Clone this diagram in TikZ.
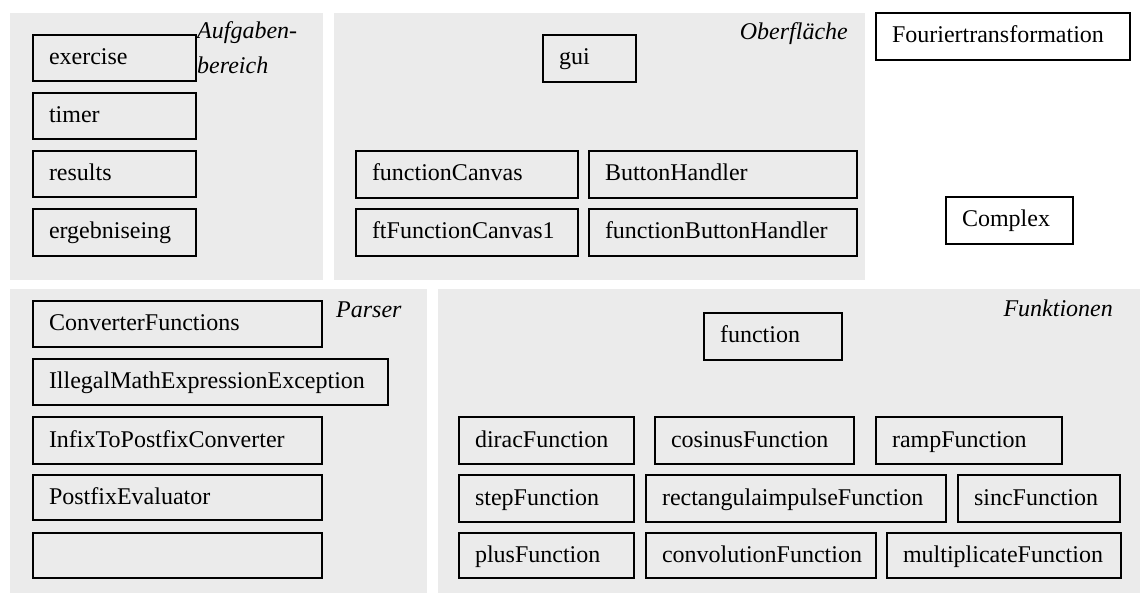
\documentclass[tikz,border=0pt]{standalone}
\usepackage{fontspec}
\setmainfont{Liberation Serif}
\definecolor{panelgray}{HTML}{EBEBEB}
\tikzset{
  panel/.style={fill=panelgray, draw=none},
  ubox/.style={draw=black, line width=1.7pt, fill=none, rectangle, anchor=north west,
    inner xsep=16pt, inner ysep=0pt, outer sep=0pt, align=left,
    text height=17pt, text depth=4pt,
    font=\fontsize{24}{28}\selectfont},
  plabel/.style={font=\fontsize{24}{28}\selectfont\itshape, inner sep=0pt}
}
% #1 name, #2 x1, #3 y1, #4 x2, #5 y2, #6 text
\newcommand\umlbox[6]{%
  \pgfmathsetmacro\bw{#4-#2}%
  \pgfmathsetmacro\bh{#5-#3}%
  \pgfmathsetmacro\tw{#4-#2-32}%
  \node[ubox, minimum width=\bw pt, minimum height=\bh pt, text width=\tw pt] (#1) at (#2,#3) {#6};%
}
\begin{document}
\begin{tikzpicture}[x=1pt,y=-1pt]
\useasboundingbox (0,0) rectangle (1140,593);
% panels
\fill[panel] (10,13) rectangle (323,280);
\fill[panel] (334,13) rectangle (865,280);
\fill[panel] (10,289) rectangle (427,593);
\fill[panel] (438,289) rectangle (1140,593);
% panel labels
\node[plabel, anchor=base west] (lAufg1) at (197,39) {Aufgaben-};
\node[plabel, anchor=base west] (lAufg2) at (197,74) {bereich};
\node[plabel, anchor=base east] (lOber) at (848,40) {Oberfläche};
\node[plabel, anchor=base west] (lPars) at (336,318) {Parser};
\node[plabel, anchor=base east] (lFunk) at (1113,317) {Funktionen};
% Aufgabenbereich
\umlbox{exercise}{33}{35}{196}{81}{exercise}
\umlbox{timer}{33}{93}{196}{139}{timer}
\umlbox{results}{33}{151}{196}{197}{results}
\umlbox{ergebniseing}{33}{209}{196}{256}{ergebniseing}
% Oberflaeche
\umlbox{gui}{543}{35}{636}{82}{gui}
\umlbox{functionCanvas}{356}{151}{578}{198}{functionCanvas}
\umlbox{ButtonHandler}{589}{151}{857}{198}{ButtonHandler}
\umlbox{ftFunctionCanvas}{356}{209}{578}{256}{ftFunctionCanvas1}
\umlbox{functionButtonHandler}{589}{209}{857}{256}{functionButtonHandler}
% standalone
\umlbox{Fourier}{876}{13}{1130}{60}{Fouriertransformation}
\umlbox{Complex}{946}{197}{1073}{244}{Complex}
% Parser
\umlbox{ConverterFunctions}{33}{301}{322}{347}{ConverterFunctions}
\umlbox{Illegal}{33}{359}{388}{405}{IllegalMathExpressionException}
\umlbox{Infix}{33}{417}{322}{464}{InfixToPostfixConverter}
\umlbox{Postfix}{33}{475}{322}{520}{PostfixEvaluator}
\umlbox{empty}{33}{533}{322}{578}{}
% Funktionen
\umlbox{function}{704}{313}{842}{360}{function}
\umlbox{dirac}{459}{417}{634}{464}{diracFunction}
\umlbox{cosinus}{655}{417}{854}{464}{cosinusFunction}
\umlbox{ramp}{876}{417}{1062}{464}{rampFunction}
\umlbox{step}{459}{475}{634}{522}{stepFunction}
\umlbox{rect}{646}{475}{946}{522}{rectangulaimpulseFunction}
\umlbox{sinc}{958}{475}{1120}{522}{sincFunction}
\umlbox{plus}{459}{533}{634}{578}{plusFunction}
\umlbox{conv}{646}{533}{876}{578}{convolutionFunction}
\umlbox{mult}{887}{533}{1121}{578}{multiplicateFunction}
\end{tikzpicture}
\end{document}
